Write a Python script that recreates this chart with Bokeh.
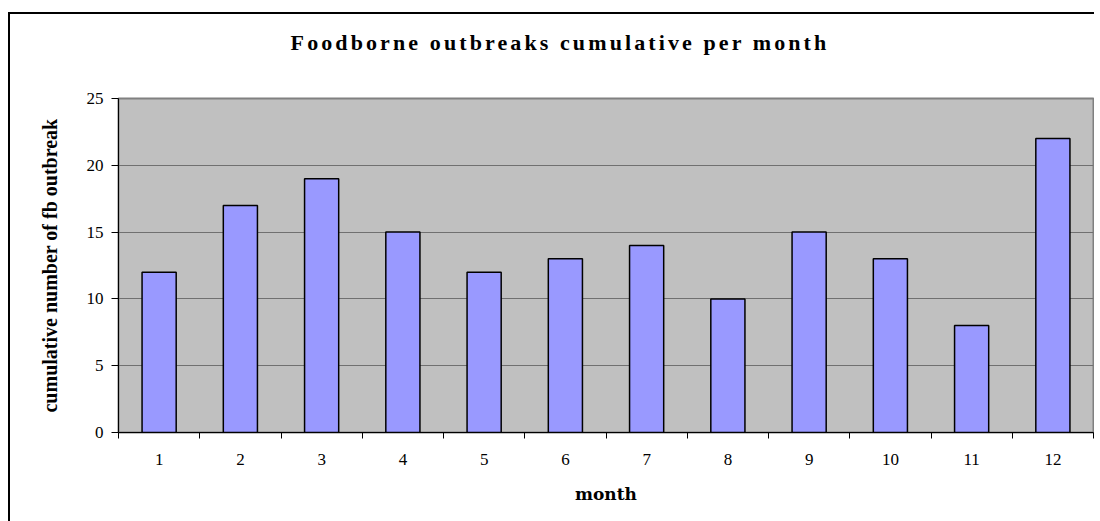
from bokeh.plotting import figure
from bokeh.models import Range1d, FixedTicker, Div
from bokeh.layouts import column
from bokeh.embed import file_html
from bokeh.resources import INLINE

months = [1, 2, 3, 4, 5, 6, 7, 8, 9, 10, 11, 12]
month_labels = ["1", "2", "3", "4", "5", "6", "7", "8", "9", "10", "11", "12"]
outbreaks = [12, 17, 19, 15, 12, 13, 14, 10, 15, 13, 8, 22]
y_ticks = [0, 5, 10, 15, 20, 25]
title_text = "Foodborne outbreaks cumulative per month"

SERIF = "Liberation Serif"
WIDE_SERIF = "DejaVu Serif"

title_div = Div(text=title_text, width=1084, height=58, margin=(0, 0, 0, 0),
                styles={"text-align": "center", "line-height": "58px",
                        "font-family": "'Liberation Serif', serif", "font-weight": "bold",
                        "font-size": "22px", "letter-spacing": "3.1px",
                        "padding-left": "16px", "box-sizing": "border-box",
                        "color": "black", "white-space": "nowrap"})

p = figure(width=1084, height=449, output_backend="svg", toolbar_location=None,
           x_range=Range1d(0.5, 12.5), y_range=Range1d(0, 25),
           min_border_left=108, min_border_right=1, min_border_top=26, min_border_bottom=89)
p.margin = (0, 0, 0, 0)

p.background_fill_color = "#C0C0C0"
p.border_fill_color = "white"
p.outline_line_color = "#808080"
p.outline_line_width = 2

p.vbar(x=months, top=outbreaks, width=0.42, fill_color="#9999FF",
       line_color="black", line_width=1.5)

# axes
p.xaxis.ticker = FixedTicker(ticks=months, minor_ticks=[m + 0.5 for m in [0] + months])
p.xaxis.major_label_overrides = {m: l for m, l in zip(months, month_labels)}
p.xaxis.minor_tick_line_color = "black"
p.xaxis.minor_tick_out = 6
p.xaxis.minor_tick_in = 0
p.xaxis.major_label_standoff = 15
p.xaxis.axis_label = "month"
p.xaxis.axis_label_standoff = 16

p.yaxis.ticker = FixedTicker(ticks=y_ticks)
p.yaxis.minor_tick_line_color = None
p.yaxis.major_tick_out = 7
p.yaxis.major_tick_in = 0
p.yaxis.major_label_standoff = 8
p.yaxis.axis_label = "cumulative number of fb outbreak"
p.yaxis.axis_label_standoff = 23

for ax in (p.xaxis, p.yaxis):
    ax.axis_line_color = "black"
    ax.axis_line_width = 1
    ax.major_label_text_font = SERIF
    ax.major_label_text_font_size = "17px"
    ax.major_label_text_color = "black"
    ax.axis_label_text_font = SERIF
    ax.axis_label_text_font_style = "bold"
    ax.axis_label_text_color = "black"

p.xaxis.major_tick_line_color = None
p.yaxis.major_tick_line_color = "black"
p.xaxis.axis_label_text_font = WIDE_SERIF
p.xaxis.axis_label_text_font_size = "17px"
p.yaxis.axis_label_text_font_size = "20px"

p.xgrid.grid_line_color = None
p.ygrid.grid_line_color = "#707070"
p.ygrid.grid_line_width = 1

layout = column(title_div, p, spacing=0)
layout.margin = (12, 0, 0, 8)
layout.styles = {"border-left": "2px solid black", "border-top": "2px solid black"}

open("out.html", "w").write(file_html(layout, INLINE))
